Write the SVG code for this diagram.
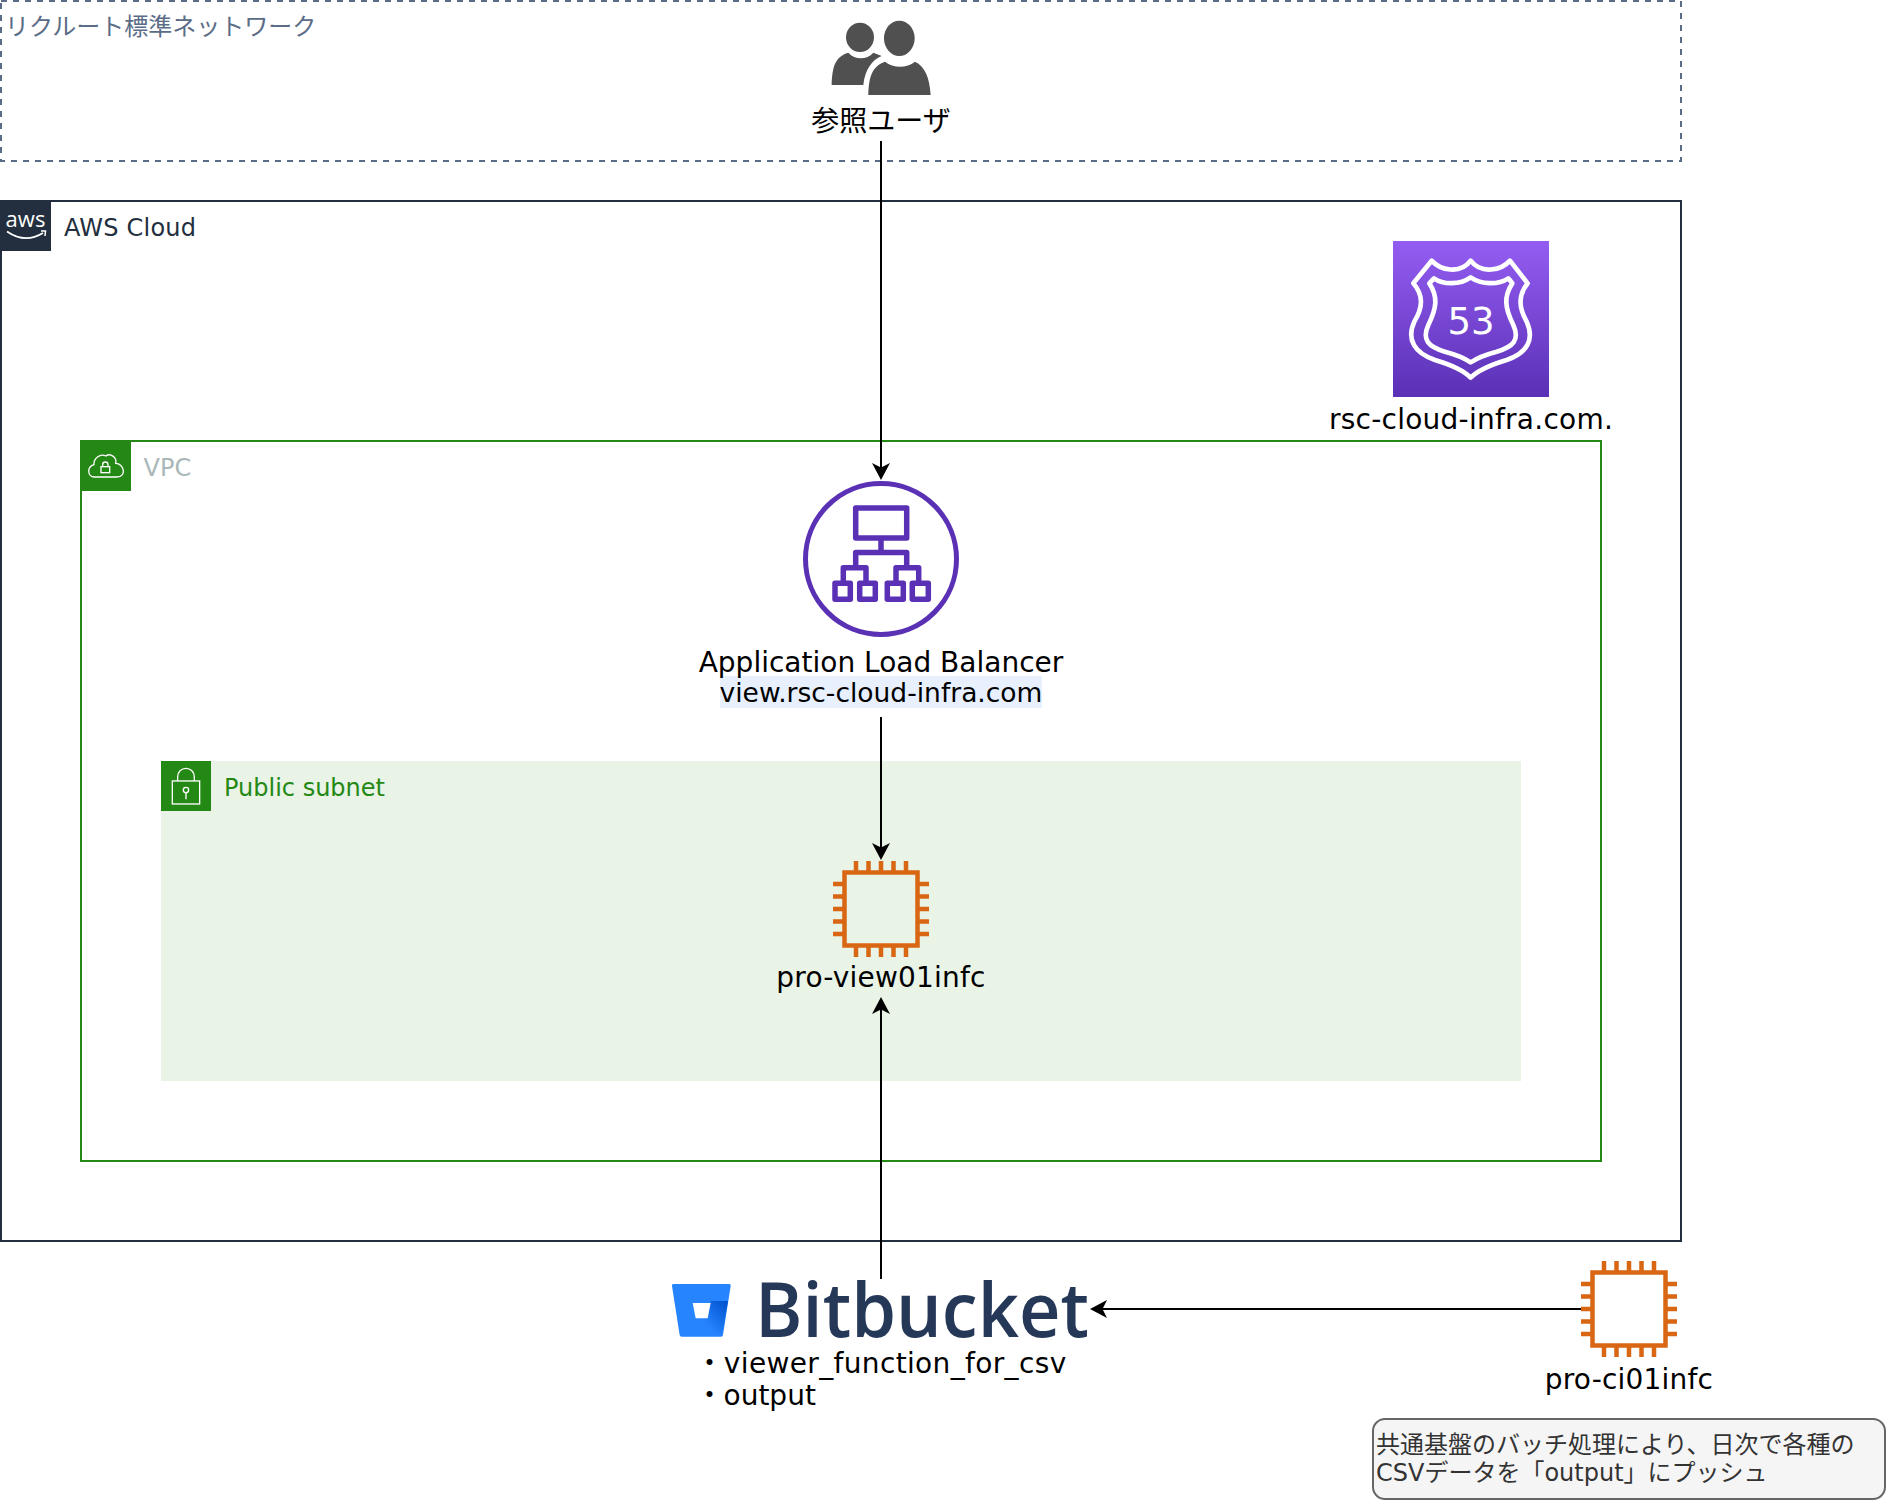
<svg xmlns="http://www.w3.org/2000/svg" width="1886" height="1500" viewBox="0 0 1886 1500">
<style>
text{font-family:"DejaVu Sans","Noto Sans CJK JP",sans-serif;font-size:24px;fill:#000}
.lbl{font-size:28px}
.m{text-anchor:middle}
.ec2 rect{fill:none;stroke:#D86613;stroke-width:4.500}
.ec2 path{fill:none;stroke:#D86613;stroke-width:4.500}
.alb{fill:none;stroke:#5A30B5;stroke-width:5.500;stroke-linejoin:round}
.tagline{fill:none;stroke:#fff;stroke-width:4}
.conn{stroke:#000;stroke-width:2;fill:none;marker-end:url(#arrow)}
</style>
<defs>
<marker id="arrow" markerUnits="userSpaceOnUse" markerWidth="18" markerHeight="18" viewBox="0 0 18 18" refX="13" refY="9" orient="auto">
<path d="M0 0L17 9L0 18L4.5 9Z" fill="#000"/>
</marker>
<linearGradient id="r53" x1="0" y1="0" x2="0" y2="1"><stop offset="0" stop-color="#945DF2"/><stop offset="1" stop-color="#5A30B5"/></linearGradient>
<linearGradient id="bb" gradientUnits="userSpaceOnUse" x1="190" y1="85" x2="125" y2="150"><stop offset="0" stop-color="#0052CC"/><stop offset="1" stop-color="#2684FF"/></linearGradient>
<g id="chip" class="ec2">
<rect x="11.500" y="11.500" width="73" height="73"/>
<path d="M23 0V10M35.500 0V10M48 0V10M60.500 0V10M73 0V10M23 86V96M35.500 86V96M48 86V96M60.500 86V96M73 86V96M0 23H10M0 35.500H10M0 48H10M0 60.500H10M0 73H10M86 23H96M86 35.500H96M86 48H96M86 60.500H96M86 73H96"/>
</g>
</defs>
<rect width="1886" height="1500" fill="#fff"/>

<g id="network">
<rect x="1" y="1" width="1680" height="160" fill="none" stroke="#5A6C86" stroke-width="2" stroke-dasharray="6 6"/>
<text x="5" y="35" style="fill:#5A6C86">リクルート標準ネットワーク</text>
</g>

<g id="aws-cloud">
<rect x="1" y="201" width="1680" height="1040" fill="none" stroke="#232F3E" stroke-width="2"/>
<rect x="1" y="201" width="50" height="50" fill="#232F3E"/>
<text x="25.500" y="226.700" class="m" style="fill:#fff;font-family:'Open Sans',sans-serif;font-size:22px">aws</text>
<path d="M7 231.500Q25 244 43 233" fill="none" stroke="#fff" stroke-width="1.800"/>
<path d="M41 231L45.500 231L45 236" fill="none" stroke="#fff" stroke-width="1.500"/>
<text x="64" y="236" textLength="132" style="fill:#232F3E">AWS Cloud</text>
</g>

<g id="vpc">
<rect x="81" y="441" width="1520" height="720" fill="none" stroke="#248814" stroke-width="2"/>
<rect x="81" y="441" width="50" height="50" fill="#248814"/>
<g transform="translate(0,430) scale(.3333)">
<path class="tagline" d="M283 141C262 141 260 110 282 104C280 85 300 70 318 78C330 68 352 82 347 100C372 100 382 141 350 141Z"/>
<rect class="tagline" x="303" y="110" width="26" height="18"/>
<path class="tagline" d="M308 110V104A8 8 0 0 1 324 104V110"/>
</g>
<text x="143.500" y="475.500" style="fill:#AAB7B8">VPC</text>
</g>

<g id="public-subnet">
<rect x="161" y="761" width="1360" height="320" fill="#E9F3E6"/>
<rect x="161" y="761" width="50" height="50" fill="#248814"/>
<g transform="translate(0,430) scale(.3333)">
<rect class="tagline" x="517" y="1053" width="82" height="69"/>
<path class="tagline" d="M533 1053V1040A25 25 0 0 1 583 1040V1053"/>
<circle class="tagline" cx="558" cy="1080" r="8"/>
<path class="tagline" d="M558 1088V1108"/>
</g>
<text x="224" y="796" style="fill:#248814">Public subnet</text>
</g>

<g id="reference-users">
<g transform="translate(800,10) scale(.3333)" fill="#505050">
<ellipse cx="180" cy="82" rx="42" ry="44"/>
<ellipse cx="298" cy="85" rx="46" ry="53"/>
<path d="M95 225C97 170 105 140 145 128C165 150 200 150 220 128L245 138C215 150 195 180 190 225Z"/>
<path d="M205 255C207 200 215 170 255 155C280 175 320 175 345 155C375 170 388 200 392 255Z"/>
</g>
<text x="881" y="131" class="m lbl">参照ユーザ</text>
</g>

<g id="route53">
<rect x="1393" y="241" width="156" height="156" fill="url(#r53)"/>
<g transform="translate(1300,200) scale(.3333)" fill="none" stroke="#fff" stroke-width="14" stroke-linejoin="round">
<path d="M395 182C420 210 480 225 512 182C545 225 605 210 630 182L683 250C655 285 655 320 680 365C705 420 680 460 620 480C570 495 535 510 512 533C490 510 455 495 405 480C345 460 318 420 343 365C370 320 370 285 340 250Z"/>
<path d="M402 235C430 255 480 255 512 232C545 255 595 255 625 235L637 250C610 290 615 325 640 375C660 420 640 440 590 455C560 463 530 475 512 487C495 475 465 463 435 455C385 440 365 420 385 375C410 325 415 290 388 250Z"/>
</g>
<text x="1471" y="334" class="m" style="fill:#fff;font-size:37px">53</text>
<text x="1471" y="429" class="m lbl" style="letter-spacing:.25px">rsc-cloud-infra.com.</text>
</g>

<g id="alb">
<circle class="alb" cx="881" cy="559" r="75.500" style="stroke-width:5"/>
<rect class="alb" x="855.700" y="508" width="51" height="30"/>
<path class="alb" d="M881 538V552.500M855.700 567V552.500H906.700V567M843.300 583V567.700H866V583M896 583V567.700H918.700V583"/>
<rect class="alb" x="835" y="583.300" width="15.300" height="16"/>
<rect class="alb" x="859.700" y="583.300" width="15.600" height="16"/>
<rect class="alb" x="887.300" y="583.300" width="16" height="16"/>
<rect class="alb" x="912.300" y="583.300" width="16" height="16"/>
<rect x="720" y="676" width="322" height="32" fill="#E8F0FE"/>
<text class="m lbl"><tspan x="881" y="672">Application Load Balancer</tspan><tspan x="881" y="701.500" style="font-size:26.500px">view.rsc-cloud-infra.com</tspan></text>
</g>

<g id="pro-view01infc">
<use href="#chip" x="833" y="861"/>
<text x="881" y="987" class="m lbl" style="letter-spacing:.2px">pro-view01infc</text>
</g>

<g id="bitbucket">
<g transform="translate(665,1275) scale(.3333)">
<path d="M25 27H193Q198 27 197 33L174 180Q173 185 168 185H50Q45 185 44 180L21 33Q20 27 25 27Z" fill="#2684FF"/>
<path d="M189 78H137L128 130H92L50 182H170Z" fill="url(#bb)"/>
<path d="M83 84H137L128 130H92Z" fill="#fff"/>
</g>
<text x="755" y="1336.500" textLength="334" lengthAdjust="spacingAndGlyphs" style="fill:#253858;font-family:'Open Sans',sans-serif;font-weight:550;font-size:76px">Bitbucket</text>
<text class="lbl"><tspan x="695.500" y="1373" style="letter-spacing:.35px">・viewer_function_for_csv</tspan><tspan x="695.500" y="1405">・output</tspan></text>
</g>

<g id="pro-ci01infc">
<use href="#chip" x="1581" y="1261"/>
<text x="1629" y="1389" class="m lbl" style="letter-spacing:.2px">pro-ci01infc</text>
</g>

<g id="note">
<rect x="1373" y="1419" width="512" height="80" rx="12" ry="12" fill="#F5F5F5" stroke="#666" stroke-width="2"/>
<text style="fill:#333"><tspan x="1376" y="1453">共通基盤のバッチ処理により、日次で各種の</tspan><tspan x="1376" y="1481">CSVデータを「output」にプッシュ</tspan></text>
</g>

<g id="connectors">
<path class="conn" d="M881 141V476"/>
<path class="conn" d="M881 717V856"/>
<path class="conn" d="M881 1279V1001"/>
<path class="conn" d="M1581 1309H1094"/>
</g>
</svg>
